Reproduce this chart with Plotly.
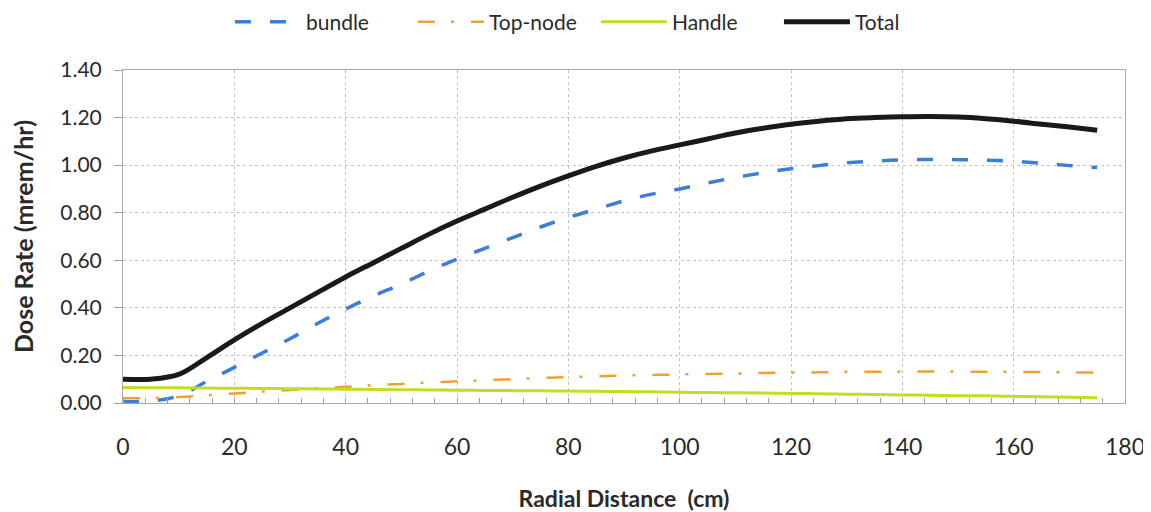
import plotly.graph_objects as go

x_cm = [0, 5, 10, 15, 20, 25, 30, 35, 40, 45, 50, 55, 60, 65, 70, 75, 80, 85,
        90, 95, 100, 105, 110, 115, 120, 125, 130, 135, 140, 145, 150, 155,
        160, 165, 170, 175]

bundle = [0.005, 0.008, 0.030, 0.090, 0.150, 0.210, 0.270, 0.335, 0.395, 0.450,
          0.500, 0.555, 0.605, 0.650, 0.695, 0.740, 0.780, 0.815, 0.850, 0.878,
          0.900, 0.925, 0.948, 0.968, 0.985, 0.998, 1.010, 1.017, 1.022, 1.024,
          1.023, 1.021, 1.017, 1.008, 0.998, 0.990]

top_node = [0.020, 0.020, 0.025, 0.032, 0.040, 0.048, 0.055, 0.062, 0.068, 0.075,
            0.080, 0.086, 0.091, 0.096, 0.100, 0.105, 0.109, 0.112, 0.116, 0.118,
            0.120, 0.122, 0.124, 0.126, 0.128, 0.129, 0.131, 0.131, 0.132, 0.132,
            0.132, 0.131, 0.131, 0.130, 0.129, 0.128]

handle = [0.065, 0.064, 0.064, 0.063, 0.062, 0.061, 0.060, 0.059, 0.058, 0.057,
          0.056, 0.055, 0.054, 0.053, 0.052, 0.051, 0.050, 0.049, 0.048, 0.047,
          0.045, 0.044, 0.043, 0.042, 0.040, 0.039, 0.037, 0.036, 0.034, 0.033,
          0.031, 0.030, 0.028, 0.026, 0.024, 0.022]

total = [0.100, 0.100, 0.120, 0.190, 0.265, 0.335, 0.400, 0.465, 0.530, 0.590,
         0.650, 0.710, 0.765, 0.815, 0.865, 0.912, 0.955, 0.995, 1.030, 1.060,
         1.085, 1.110, 1.135, 1.155, 1.172, 1.185, 1.195, 1.200, 1.203, 1.204,
         1.202, 1.195, 1.185, 1.172, 1.160, 1.147]

y_ticks = [0.0, 0.2, 0.4, 0.6, 0.8, 1.0, 1.2, 1.4]
x_ticks = [0, 20, 40, 60, 80, 100, 120, 140, 160, 180]

FONT = "Lato"
TXT = "#2a2a2a"

fig = go.Figure()
fig.add_trace(go.Scatter(x=x_cm, y=bundle, name="bundle", mode="lines",
                         line=dict(color="#3b7ddd", width=3.5, dash="16px,19px", shape="spline")))
fig.add_trace(go.Scatter(x=x_cm, y=top_node, name="Top-node", mode="lines",
                         line=dict(color="#f0a030", width=2.5, dash="17px,16px,3px,17px", shape="spline")))
fig.add_trace(go.Scatter(x=x_cm, y=handle, name="Handle", mode="lines",
                         line=dict(color="#c5dc22", width=3, shape="spline")))
fig.add_trace(go.Scatter(x=x_cm, y=total, name="Total", mode="lines",
                         line=dict(color="#1a1a1a", width=5, shape="spline")))

# the page body adds an 8px offset; the figure is sized so the screen layout matches
fig.update_layout(
    width=1143, height=504,
    margin=dict(l=115, r=26, t=62, b=109, autoexpand=False),
    paper_bgcolor="white", plot_bgcolor="white",
    font=dict(family=FONT, color=TXT, size=18),
    legend=dict(orientation="h", x=0.472, xanchor="center",
                y=1.144, yanchor="middle",
                font=dict(size=21, family=FONT, color=TXT),
                bgcolor="rgba(0,0,0,0)", itemwidth=66,
                entrywidth=102, entrywidthmode="pixels"),
    showlegend=True,
)
fig.update_xaxes(
    range=[0, 180], tickvals=x_ticks, ticktext=[str(v) for v in x_ticks],
    showgrid=True, gridcolor="#c4c4c4", griddash="dot", gridwidth=1,
    showline=True, linecolor="#a8a8a8", linewidth=1, mirror=True,
    ticks="", tickfont=dict(size=23, family=FONT, color=TXT), ticklabelstandoff=23,
    tickangle=0,
    minor=dict(dtick=4, tick0=0, ticks="inside", ticklen=5, tickcolor="#a0a0a0", showgrid=False),
    zeroline=False, automargin=False,
    title=dict(text="<b>Radial Distance  (cm)</b>", font=dict(size=23, family=FONT, color=TXT), standoff=35),
)
fig.update_yaxes(
    range=[0, 1.4], tickvals=y_ticks, ticktext=[f"{v:.2f}" for v in y_ticks],
    showgrid=True, gridcolor="#c4c4c4", griddash="dot", gridwidth=1,
    showline=True, linecolor="#a8a8a8", linewidth=1, mirror=True,
    ticks="outside", ticklen=8, tickcolor="#a0a0a0", ticklabelstandoff=8,
    tickfont=dict(size=21, family=FONT, color=TXT), zeroline=False, automargin=False,
    title=dict(text="<b>Dose Rate (mrem/hr)</b>", font=dict(size=25, family=FONT, color=TXT), standoff=28),
)

fig.write_html("out.html")
